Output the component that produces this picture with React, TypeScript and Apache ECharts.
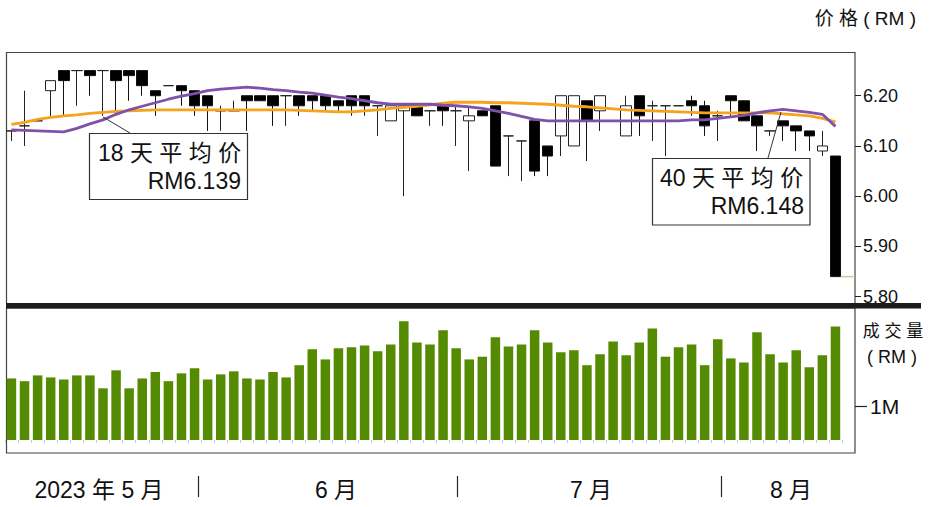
import React, { useEffect, useRef } from 'react';
import * as echarts from 'echarts';

const FONT = '"Liberation Sans", Arial, "Noto Sans CJK SC", sans-serif';

const dates = [
  '2023-05-11', '2023-05-12', '2023-05-15', '2023-05-16', '2023-05-17', '2023-05-18', '2023-05-19', '2023-05-22',
  '2023-05-23', '2023-05-24', '2023-05-25', '2023-05-26', '2023-05-29', '2023-05-30', '2023-05-31',
  '2023-06-01', '2023-06-02', '2023-06-06', '2023-06-07', '2023-06-08', '2023-06-09', '2023-06-12', '2023-06-13',
  '2023-06-14', '2023-06-15', '2023-06-16', '2023-06-19', '2023-06-20', '2023-06-21', '2023-06-22', '2023-06-23',
  '2023-06-26', '2023-06-27', '2023-06-28', '2023-06-30',
  '2023-07-03', '2023-07-04', '2023-07-05', '2023-07-06', '2023-07-07', '2023-07-10', '2023-07-11', '2023-07-12',
  '2023-07-13', '2023-07-14', '2023-07-17', '2023-07-18', '2023-07-20', '2023-07-21', '2023-07-24', '2023-07-25',
  '2023-07-26', '2023-07-27', '2023-07-28', '2023-07-31',
  '2023-08-01', '2023-08-02', '2023-08-03', '2023-08-04', '2023-08-07', '2023-08-08', '2023-08-09', '2023-08-10',
  '2023-08-11',
];

const opens = [6.13, 6.14, 6.15, 6.21, 6.25, 6.25, 6.25, 6.25, 6.25, 6.25,
  6.25, 6.21, 6.22, 6.22, 6.21, 6.20, 6.17, 6.17, 6.20, 6.20,
  6.20, 6.20, 6.20, 6.20, 6.20, 6.19, 6.20, 6.20, 6.18, 6.15,
  6.17, 6.18, 6.17, 6.18, 6.17, 6.15, 6.17, 6.18, 6.12, 6.11,
  6.15, 6.10, 6.12, 6.10, 6.19, 6.17, 6.15, 6.12, 6.20, 6.18,
  6.18, 6.18, 6.19, 6.18, 6.16, 6.20, 6.19, 6.16, 6.13, 6.15,
  6.14, 6.13, 6.09, 6.08];
const closes = [6.13, 6.14, 6.15, 6.23, 6.23, 6.25, 6.24, 6.25, 6.23, 6.24,
  6.22, 6.20, 6.22, 6.21, 6.18, 6.18, 6.17, 6.17, 6.19, 6.19,
  6.18, 6.20, 6.18, 6.19, 6.18, 6.18, 6.18, 6.18, 6.18, 6.18,
  6.18, 6.16, 6.17, 6.17, 6.17, 6.16, 6.16, 6.06, 6.12, 6.11,
  6.05, 6.08, 6.20, 6.20, 6.15, 6.20, 6.15, 6.18, 6.16, 6.18,
  6.18, 6.18, 6.18, 6.14, 6.16, 6.19, 6.15, 6.14, 6.13, 6.14,
  6.13, 6.12, 6.10, 5.84];
const lows = [6.11, 6.10, 6.15, 6.16, 6.16, 6.18, 6.20, 6.16, 6.16, 6.19,
  6.20, 6.16, 6.22, 6.18, 6.16, 6.13, 6.13, 6.17, 6.13, 6.19,
  6.14, 6.14, 6.16, 6.17, 6.17, 6.17, 6.16, 6.16, 6.12, 6.15,
  6.00, 6.16, 6.14, 6.14, 6.10, 6.05, 6.16, 6.06, 6.04, 6.03,
  6.04, 6.04, 6.08, 6.10, 6.07, 6.13, 6.15, 6.12, 6.12, 6.11,
  6.08, 6.18, 6.16, 6.12, 6.11, 6.16, 6.15, 6.09, 6.12, 6.11,
  6.09, 6.09, 6.08, 5.84];
const highs = [6.13, 6.21, 6.15, 6.23, 6.25, 6.25, 6.25, 6.25, 6.25, 6.25,
  6.25, 6.21, 6.22, 6.22, 6.21, 6.20, 6.18, 6.19, 6.20, 6.20,
  6.20, 6.20, 6.20, 6.20, 6.20, 6.19, 6.20, 6.20, 6.18, 6.18,
  6.18, 6.18, 6.17, 6.18, 6.18, 6.18, 6.17, 6.18, 6.12, 6.11,
  6.15, 6.10, 6.20, 6.20, 6.19, 6.20, 6.15, 6.20, 6.20, 6.19,
  6.18, 6.18, 6.20, 6.19, 6.17, 6.20, 6.19, 6.16, 6.13, 6.15,
  6.14, 6.13, 6.13, 6.08];

// volume in millions (RM)
const volumes = [1.81, 1.73, 1.90, 1.84, 1.78, 1.90, 1.90, 1.52, 2.05, 1.52,
  1.81, 2.00, 1.73, 1.96, 2.11, 1.78, 1.93, 2.02, 1.81, 1.78,
  2.00, 1.84, 2.20, 2.67, 2.37, 2.70, 2.73, 2.78, 2.61, 2.81,
  3.49, 2.87, 2.81, 3.23, 2.70, 2.37, 2.45, 3.02, 2.75, 2.81,
  3.23, 2.87, 2.58, 2.64, 2.20, 2.52, 2.90, 2.49, 2.87, 3.28,
  2.45, 2.73, 2.81, 2.20, 2.96, 2.40, 2.28, 3.17, 2.52, 2.28,
  2.64, 2.14, 2.49, 3.34];

const ma18 = [6.132, 6.131, 6.130, 6.129, 6.128, 6.135, 6.144, 6.152, 6.163, 6.172,
  6.179, 6.186, 6.193, 6.199, 6.204, 6.210, 6.213, 6.215, 6.217, 6.215,
  6.212, 6.210, 6.207, 6.205, 6.201, 6.197, 6.194, 6.190, 6.186, 6.183,
  6.183, 6.183, 6.183, 6.181, 6.180, 6.178, 6.175, 6.170, 6.165, 6.159,
  6.153, 6.150, 6.150, 6.150, 6.150, 6.150, 6.150, 6.150, 6.150, 6.150,
  6.150, 6.150, 6.152, 6.152, 6.155, 6.158, 6.161, 6.166, 6.170, 6.173,
  6.170, 6.167, 6.163, 6.139];
const ma40 = [6.143, 6.147, 6.153, 6.157, 6.160, 6.162, 6.165, 6.167, 6.169, 6.170,
  6.171, 6.172, 6.172, 6.172, 6.172, 6.172, 6.172, 6.172, 6.172, 6.172,
  6.172, 6.172, 6.171, 6.170, 6.169, 6.168, 6.168, 6.170, 6.172, 6.175,
  6.177, 6.179, 6.182, 6.185, 6.187, 6.187, 6.187, 6.186, 6.186, 6.185,
  6.184, 6.183, 6.181, 6.179, 6.178, 6.176, 6.174, 6.172, 6.171, 6.170,
  6.169, 6.168, 6.167, 6.166, 6.166, 6.166, 6.166, 6.166, 6.166, 6.164,
  6.162, 6.160, 6.155, 6.148];

const priceTicks = [5.8, 5.9, 6.0, 6.1, 6.2];
const volumeTicks = [1];
const monthLabels = ['2023 年 5 月', '6 月', '7 月', '8 月'];

function txt(id: string, text: string, x: number, y: number, size: number, align: string, z = 100) {
  return {
    id, type: 'text', x, y, z, silent: true,
    style: {
      text, font: `${size}px ${FONT}`, fill: '#111',
      textAlign: align, align, textVerticalAlign: 'middle', verticalAlign: 'middle',
    },
  };
}

export default function App() {
  const ref = useRef<HTMLDivElement>(null);
  useEffect(() => {
    const chart = echarts.init(ref.current!, null, { renderer: 'svg' });
    const candles = opens.map((o, i) => [o, closes[i], lows[i], highs[i]]);
    const last18 = ma18[ma18.length - 1].toFixed(3);
    const last40 = ma40[ma40.length - 1].toFixed(3);

    const graphics: any[] = [
      { id: 'frame1', type: 'rect', z: 0, silent: true, shape: { x: 6.5, y: 52.5, width: 848.5, height: 251 }, style: { fill: 'none', stroke: '#444', lineWidth: 1.2 } },
      { id: 'frame2', type: 'rect', z: 0, silent: true, shape: { x: 6.5, y: 308, width: 848.5, height: 145 }, style: { fill: 'none', stroke: '#444', lineWidth: 1.2 } },
      { id: 'sep', type: 'rect', z: 50, silent: true, shape: { x: 6, y: 303, width: 915, height: 5.5 }, style: { fill: '#1c1c1c' } },
      txt('unitTop', '价 格 ( RM )', 916, 18, 19, 'right'),
      txt('volT1', '成 交 量', 893, 331, 17, 'center'),
      txt('volT2', '( RM )', 892, 357, 18, 'center'),
      // MA label boxes
      { id: 'lead1', type: 'line', z: 90, silent: true, shape: { x1: 103, y1: 117, x2: 130, y2: 133 }, style: { stroke: '#333', lineWidth: 1 } },
      { id: 'box1', type: 'rect', z: 95, silent: true, shape: { x: 89.5, y: 133.5, width: 158, height: 66 }, style: { fill: '#fff', stroke: '#333', lineWidth: 1.2 } },
      txt('b1l1', '18 天 平 均 价', 98, 153, 23, 'left'),
      txt('b1l2', 'RM' + last18, 241, 181, 23, 'right'),
      { id: 'lead2', type: 'line', z: 90, silent: true, shape: { x1: 768, y1: 158, x2: 781, y2: 112 }, style: { stroke: '#333', lineWidth: 1 } },
      { id: 'box2', type: 'rect', z: 95, silent: true, shape: { x: 652.5, y: 158.5, width: 157.5, height: 66.5 }, style: { fill: '#fff', stroke: '#333', lineWidth: 1.2 } },
      txt('b2l1', '40 天 平 均 价', 660, 178, 23, 'left'),
      txt('b2l2', 'RM' + last40, 804, 206, 23, 'right'),
      // months
      txt('m0', monthLabels[0], 99, 490, 23, 'center'),
      txt('m1', monthLabels[1], 336, 490, 23, 'center'),
      txt('m2', monthLabels[2], 591, 490, 23, 'center'),
      txt('m3', monthLabels[3], 791, 490, 23, 'center'),
      { id: 's1', type: 'line', silent: true, shape: { x1: 198.5, y1: 476, x2: 198.5, y2: 497 }, style: { stroke: '#222', lineWidth: 1.2 } },
      { id: 's2', type: 'line', silent: true, shape: { x1: 457.5, y1: 476, x2: 457.5, y2: 497 }, style: { stroke: '#222', lineWidth: 1.2 } },
      { id: 's3', type: 'line', silent: true, shape: { x1: 721.5, y1: 476, x2: 721.5, y2: 497 }, style: { stroke: '#222', lineWidth: 1.2 } },
    ];

    const option: any = {
      animation: false,
      backgroundColor: '#fff',
      textStyle: { fontFamily: FONT },
      grid: [
        { left: 4.9, right: 89, top: 52, height: 251, show: false },
        { left: 4.9, right: 89, top: 308, height: 145, show: false },
      ],
      xAxis: [
        {
          type: 'category', gridIndex: 0, data: dates, boundaryGap: true,
          axisLine: { show: false }, axisTick: { show: false }, axisLabel: { show: false }, splitLine: { show: false },
        },
        {
          type: 'category', gridIndex: 1, data: dates, boundaryGap: true,
          axisLine: { show: false },
          axisTick: { show: true, interval: 0, length: 3, lineStyle: { color: '#bbb', width: 0.8 } },
          axisLabel: { show: false }, splitLine: { show: false },
        },
      ],
      yAxis: [
        {
          type: 'value', gridIndex: 0, position: 'right', offset: 13, min: 5.7875, max: 6.287, scale: true,
          axisLine: { show: false }, splitLine: { show: false },
          axisTick: { show: true, length: 6, customValues: priceTicks, lineStyle: { color: '#222', width: 1 } },
          axisLabel: {
            show: true, customValues: priceTicks, margin: 8, fontSize: 18, color: '#111', fontFamily: FONT,
            formatter: (v: number) => v.toFixed(2),
          },
        },
        {
          type: 'value', gridIndex: 1, position: 'right', offset: 13, min: -0.382, max: 3.882,
          axisLine: { show: false }, splitLine: { show: false },
          axisTick: { show: true, length: 12, customValues: volumeTicks, lineStyle: { color: '#222', width: 1.2 } },
          axisLabel: {
            show: true, customValues: volumeTicks, margin: 15, fontSize: 21, color: '#111', fontFamily: FONT,
            formatter: (v: number) => `${v}M`,
          },
        },
      ],
      series: [
        {
          type: 'candlestick', xAxisIndex: 0, yAxisIndex: 0, data: candles, barWidth: 11, z: 2,
          itemStyle: {
            color: '#fff', color0: '#000', borderColor: '#222', borderColor0: '#111',
            borderColorDoji: '#222', borderWidth: 1,
          },
        },
        {
          type: 'line', xAxisIndex: 0, yAxisIndex: 0, data: ma40, symbol: 'none', z: 3,
          lineStyle: { color: '#f5a21c', width: 2.8 },
        },
        {
          type: 'line', xAxisIndex: 0, yAxisIndex: 0, data: ma18, symbol: 'none', z: 4,
          lineStyle: { color: '#7e52a9', width: 2.8 },
        },
        {
          type: 'bar', xAxisIndex: 1, yAxisIndex: 1, data: volumes, barWidth: 9.5,
          itemStyle: { color: '#558b02' },
        },
      ],
      graphic: graphics,
    };
    chart.setOption(option);
    const p = chart.convertToPixel({ xAxisIndex: 0, yAxisIndex: 0 }, [dates[dates.length - 1], closes[closes.length - 1]]) as number[];
    if (p && isFinite(p[0])) {
      chart.setOption({
        graphic: [{
          id: 'lastClose', type: 'line', silent: true, z: 10,
          shape: { x1: p[0] + 5.5, y1: p[1], x2: 855, y2: p[1] },
          style: { stroke: '#d6c59c', lineWidth: 1.5 },
        }],
      });
    }
    return () => chart.dispose();
  }, []);
  return <div ref={ref} style={{ position: 'fixed', left: 0, top: 0, width: 931, height: 507, background: '#fff' }} />;
}
